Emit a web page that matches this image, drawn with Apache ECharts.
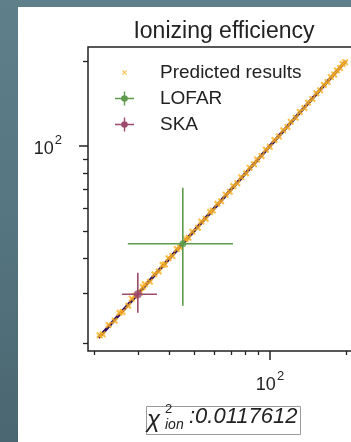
<!DOCTYPE html>
<html>
<head>
<meta charset="utf-8">
<script src="https://cdn.jsdelivr.net/npm/echarts@6/dist/echarts.min.js"></script>
<style>
  html, body { margin: 0; padding: 0; width: 351px; height: 442px; overflow: hidden;
    background: linear-gradient(to bottom, #5f7f8a 0%, #557580 50%, #4a6670 100%); }
  #chart { position: absolute; left: 18px; top: 7px; width: 352px; height: 435px; background: #ffffff; }
</style>
</head>
<body>
<div id="chart"></div>
<script>
// ---- data ----
const titleText = 'Ionizing efficiency';
const predX = [21.1, 21.7, 22.9, 24.2, 25.3, 26.0, 27.4, 28.3, 29.1, 30.6, 31.3, 31.9, 33.4, 34.8, 36.2, 37.5, 38.3, 39.6, 41.0, 42.7, 44.0, 46.3, 47.5, 49.2, 51.8, 53.4, 55.6, 57.9, 59.3, 61.8, 64.0, 66.7, 69.3, 71.5, 74.2, 76.9, 80.4, 83.1, 86.5, 88.9, 92.6, 96.3, 99.8, 104.2, 108.5, 112.9, 117.3, 121.0, 126.4, 131.2, 136.9, 141.5, 147.3, 152.8, 158.1, 163.6, 169.2, 174.5, 179.8, 184.3, 189.7, 194.2, 198.6];
const predY = [21.3, 21.5, 23.2, 24.0, 25.6, 25.8, 27.1, 28.7, 29.4, 30.2, 31.6, 32.3, 33.0, 35.1, 35.9, 37.8, 38.0, 40.0, 40.7, 43.1, 43.6, 46.7, 47.2, 49.6, 51.3, 53.9, 55.2, 58.3, 59.0, 62.3, 63.6, 67.1, 68.8, 72.0, 73.7, 77.4, 79.9, 83.6, 86.0, 89.5, 92.1, 96.9, 99.2, 104.8, 107.9, 113.6, 116.6, 121.8, 125.7, 131.9, 136.2, 142.3, 146.5, 153.6, 157.4, 164.4, 168.3, 175.4, 178.9, 185.1, 188.8, 195.0, 197.9];
const truthX = [20.9, 200];
const truthY = [20.9, 200];
// LOFAR: centre and error range
const lofarXY = [45.1, 45.0];
const lofarXRange = [27.3, 71.3];
const lofarYRange = [27.1, 71.0];
// SKA
const skaXY = [29.9, 29.8];
const skaXRange = [25.9, 35.6];
const skaYRange = [25.6, 35.5];
const xMin = 18.97, xMax = 220;
const yMin = 18.75, yMax = 224;
const minorTicks = [20, 30, 40, 50, 60, 70, 80, 90, 200];
const majorTicks = [100];
const legendNames = ['Predicted results', 'LOFAR', 'SKA'];
const chiLabel = ':0.0117612';

// ---- styles ----
const cPred = '#fbb21f', cTruth = '#2e0b5c', cLofar = '#5e9b4c', cSka = '#9b4a6b', cInk = '#222222';
const FONT = 'Liberation Sans, Arial, sans-serif';
const xPath = 'path://M0,2.2L2.2,0L5,2.8L7.8,0L10,2.2L7.2,5L10,7.8L7.8,10L5,7.2L2.2,10L0,7.8L2.8,5Z';
const legPred = 'path://M0,0h0.01v0.01h-0.01z M19,14h-0.01v-0.01h0.01z M7.0,5.3L7.8,4.5L9.5,6.2L11.2,4.5L12.0,5.3L10.3,7L12.0,8.7L11.2,9.5L9.5,7.8L7.8,9.5L7.0,8.7L8.7,7Z';
const legErr = 'path://M0,6.3h19v1.4h-19z M8.8,0h1.4v14h-1.4z M12.8,7A3.3,3.3 0 1,1 6.2,7A3.3,3.3 0 1,1 12.8,7Z';

const supLabel = {
  formatter: () => '{a|10}{b|2}',
  rich: {
    a: { fontSize: 18, lineHeight: 18, padding: [6, 0, 0, 0], color: cInk, fontFamily: FONT },
    b: { fontSize: 13, lineHeight: 13, padding: [0, 0, 11, 1], color: cInk, fontFamily: FONT }
  }
};

const chart = echarts.init(document.getElementById('chart'), null, { renderer: 'canvas' });
const errLine = (name, color, pts) => ({
  name, type: 'line', data: pts, symbol: 'none', silent: true,
  lineStyle: { color, width: 1.6 }, itemStyle: { color }, z: 4
});

chart.setOption({
  animation: false,
  backgroundColor: '#ffffff',
  title: {
    text: titleText, left: 201, top: 8, textAlign: 'center',
    textStyle: { fontSize: 23, fontWeight: 'normal', color: cInk, fontFamily: FONT }
  },
  grid: { left: 70, top: 40, right: 13.7, bottom: 91, show: true, borderColor: cInk, borderWidth: 1.5, backgroundColor: 'transparent' },
  legend: {
    orient: 'vertical', left: 92, top: 51, itemWidth: 19, itemHeight: 14, itemGap: 7,
    selectedMode: false,
    textStyle: { fontSize: 19, lineHeight: 19, color: cInk, fontFamily: FONT, padding: [0, 0, 0, 21] },
    data: [
      { name: legendNames[0], icon: legPred },
      { name: legendNames[1], icon: legErr },
      { name: legendNames[2], icon: legErr }
    ]
  },
  xAxis: [
    { type: 'log', logBase: 10, min: xMin, max: xMax, position: 'bottom',
      axisLine: { show: false }, splitLine: { show: false },
      axisTick: { show: true, customValues: minorTicks, length: 4, lineStyle: { color: cInk, width: 1.3 } },
      axisLabel: { show: false } },
    { type: 'log', logBase: 10, min: xMin, max: xMax, position: 'bottom', offset: 0,
      axisLine: { show: false }, splitLine: { show: false },
      axisTick: { show: true, customValues: majorTicks, length: 9, lineStyle: { color: cInk, width: 1.5 } },
      axisLabel: Object.assign({ customValues: majorTicks, margin: 22 }, supLabel) }
  ],
  yAxis: [
    { type: 'log', logBase: 10, min: yMin, max: yMax, position: 'left',
      axisLine: { show: false }, splitLine: { show: false },
      axisTick: { show: true, customValues: minorTicks, length: 5, lineStyle: { color: cInk, width: 1.3 } },
      axisLabel: { show: false } },
    { type: 'log', logBase: 10, min: yMin, max: yMax, position: 'left', offset: 0,
      axisLine: { show: false }, splitLine: { show: false },
      axisTick: { show: true, customValues: majorTicks, length: 9, lineStyle: { color: cInk, width: 1.5 } },
      axisLabel: Object.assign({ customValues: majorTicks, margin: 26 }, supLabel) }
  ],
  series: [
    { name: 'truth', type: 'line', data: truthX.map((x, i) => [x, truthY[i]]), symbol: 'none', silent: true,
      lineStyle: { color: cTruth, width: 3 }, z: 2 },
    { name: legendNames[0], type: 'scatter', data: predX.map((x, i) => [x, predY[i]]),
      symbol: xPath, symbolSize: 7, itemStyle: { color: cPred }, z: 3 },
    errLine(legendNames[1], cLofar, [[lofarXRange[0], lofarXY[1]], [lofarXRange[1], lofarXY[1]]]),
    errLine(legendNames[1], cLofar, [[lofarXY[0], lofarYRange[0]], [lofarXY[0], lofarYRange[1]]]),
    { name: legendNames[1], type: 'scatter', data: [lofarXY], symbol: 'circle', symbolSize: 7,
      itemStyle: { color: cLofar }, z: 5 },
    errLine(legendNames[2], cSka, [[skaXRange[0], skaXY[1]], [skaXRange[1], skaXY[1]]]),
    errLine(legendNames[2], cSka, [[skaXY[0], skaYRange[0]], [skaXY[0], skaYRange[1]]]),
    { name: legendNames[2], type: 'scatter', data: [skaXY], symbol: 'circle', symbolSize: 8,
      itemStyle: { color: cSka }, z: 5 }
  ],
  graphic: [
    { type: 'rect', left: 128, top: 399, shape: { x: 0, y: 0, width: 154, height: 28 },
      style: { fill: '#ffffff', stroke: '#9a9a9a', lineWidth: 1 }, z: 10 },
    { type: 'text', x: 129, y: 413, z: 11,
      style: { text: 'χ', font: 'italic 24px ' + FONT, fill: cInk, verticalAlign: 'middle' } },
    { type: 'text', x: 147, y: 402, z: 11,
      style: { text: '2', font: '13px ' + FONT, fill: cInk, verticalAlign: 'middle' } },
    { type: 'text', x: 147, y: 418, z: 11,
      style: { text: 'ion', font: 'italic 14px ' + FONT, fill: cInk, verticalAlign: 'middle' } },
    { type: 'text', x: 171, y: 410, z: 11,
      style: { text: chiLabel, font: 'italic 22px ' + FONT, fill: cInk, verticalAlign: 'middle' } }
  ]
});
</script>
</body>
</html>
